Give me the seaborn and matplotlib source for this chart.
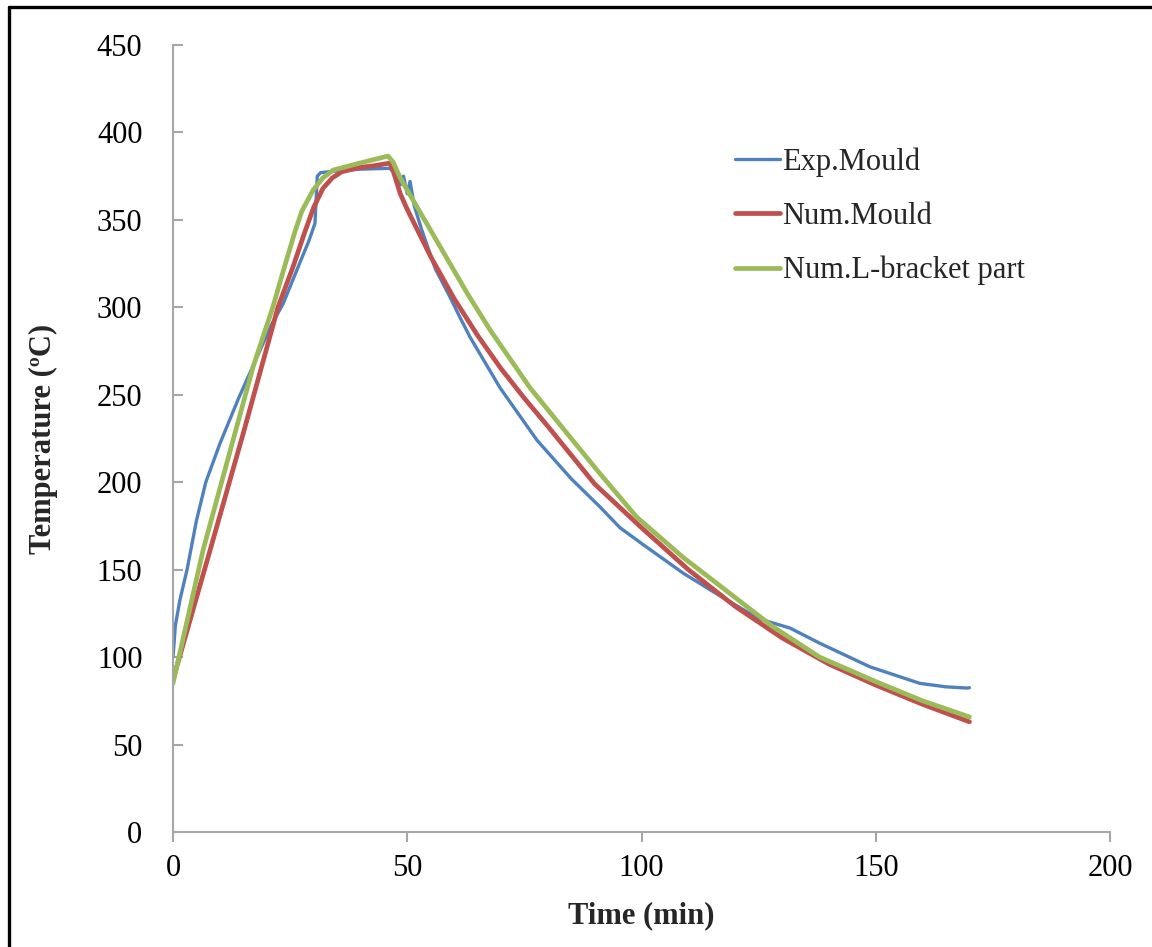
import matplotlib
matplotlib.use("Agg")
import matplotlib.pyplot as plt
from matplotlib.lines import Line2D
import seaborn as sns
import pandas as pd

# ---- data ----
exp_t = [0, 0.5, 1.5, 3, 5, 7, 10, 14, 18, 21, 23.5, 27, 29, 30.3, 30.8, 31.5, 35, 40,
         46.3, 47.5, 48.5, 49.2, 50.0, 50.6, 51.5, 53, 56, 59.1, 61.3, 63.4, 69.8,
         77.7, 85, 91.1, 95.4, 100, 108.9, 118, 125, 131.7, 138, 148.8, 159.4, 165, 169.5, 170]
exp_v = [100, 118, 133, 150, 178, 200, 222, 248, 272, 290, 302, 325, 338, 348, 375, 377, 378, 379,
         379.5, 376, 370, 375, 365, 372, 358, 345, 322, 306, 294, 283, 254,
         224, 202, 186, 174, 165, 148, 133, 122, 116.6, 108, 94.4, 85, 83, 82.3, 82.5]

num_t = [0, 7.9, 15, 22.4, 25.6, 28, 30, 32, 34, 36, 39.9, 43, 46.3, 47, 48.5, 50,
         55, 60, 65, 70, 75, 80, 90, 100, 110, 120, 130, 140, 150, 160, 170]
num_v = [87, 161, 228, 300, 323, 342, 357, 368, 374, 377.5, 380, 381, 382.5, 378, 365, 356,
         329, 305, 284, 265, 248, 232, 199, 174, 150, 129, 111, 96, 84, 73, 63]

lb_t = [0, 6.4, 12, 17.1, 21.3, 24, 26, 27.5, 29.9, 32, 34.2, 39.9, 45.9, 47, 48.5, 50, 55,
        62.8, 67.7, 76.2, 84.7, 91.1, 99, 108.9, 128, 138, 150, 160, 170]
lb_v = [85, 161, 216, 266, 300, 325, 343, 355, 367, 374, 378.5, 382.5, 386.5, 383, 374, 367, 344,
        308, 287, 254, 226, 205, 180, 157, 117.5, 100, 86, 75, 65.8]

series_names = ["Exp.Mould", "Num.Mould", "Num.L-bracket part"]
colors = ["#4F81BD", "#C0504D", "#9BBB59"]
x_ticks = [0, 50, 100, 150, 200]
y_ticks = [0, 50, 100, 150, 200, 250, 300, 350, 400, 450]

sns.set_theme(style="white")
plt.rcParams["font.family"] = ["Liberation Serif", "DejaVu Serif"]

fig = plt.figure(figsize=(11.52, 9.47), dpi=100)
ax = fig.add_axes([173 / 1152, 1 - 832 / 947, (1110 - 173) / 1152, (832 - 45) / 947])

df_exp = pd.DataFrame({"t": exp_t, "v": exp_v})
df_num = pd.DataFrame({"t": num_t, "v": num_v})
df_lb = pd.DataFrame({"t": lb_t, "v": lb_v})

sns.lineplot(data=df_exp, x="t", y="v", ax=ax, color=colors[0], lw=2.4,
             label=series_names[0], sort=False, estimator=None)
sns.lineplot(data=df_num, x="t", y="v", ax=ax, color=colors[1], lw=3.4,
             label=series_names[1], sort=False, estimator=None)
sns.lineplot(data=df_lb, x="t", y="v", ax=ax, color=colors[2], lw=3.4,
             label=series_names[2], sort=False, estimator=None)

ax.set_xlim(0, 200)
ax.set_ylim(0, 450)
ax.set_xticks(x_ticks)
ax.set_yticks(y_ticks)
ax.tick_params(axis="both", labelsize=22, colors="#a6a6a6", labelcolor="black", width=1.5)
ax.tick_params(axis="x", direction="out", length=7, pad=9, bottom=True)
ax.tick_params(axis="y", direction="in", length=7, pad=22, left=True)

for s in ["top", "right"]:
    ax.spines[s].set_visible(False)
for s in ["left", "bottom"]:
    ax.spines[s].set_color("#a6a6a6")
    ax.spines[s].set_linewidth(1.5)

ax.set_xlabel("Time (min)", fontsize=22, fontweight="bold", labelpad=13)
ax.set_ylabel("Temperature (ºC)", fontsize=22, fontweight="bold", labelpad=28)

leg = ax.legend(loc="upper left", bbox_to_anchor=(0.60, 0.870), frameon=False,
                fontsize=22, handlelength=1.45, handletextpad=0.1, labelspacing=0.82,
                borderpad=0, borderaxespad=0)
for h, lw in zip(leg.get_lines(), [2.4, 3.4, 3.4]):
    h.set_linewidth(lw)

# figure frame lines (top and left)
fig.add_artist(Line2D([8.5 / 1152, 1], [1 - 7 / 947, 1 - 7 / 947], color="black", lw=2.4,
                      transform=fig.transFigure))
fig.add_artist(Line2D([8.5 / 1152, 8.5 / 1152], [0, 1 - 7 / 947], color="black", lw=2.4,
                      transform=fig.transFigure))

fig.savefig("out.png", dpi=100)
